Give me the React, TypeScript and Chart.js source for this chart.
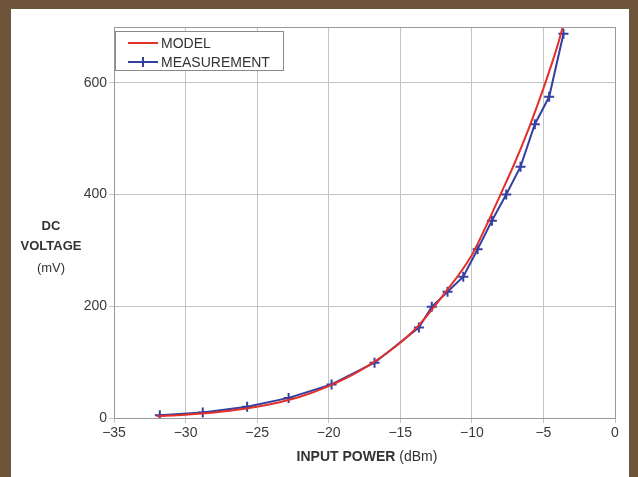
import React, { useEffect, useRef } from 'react';
import { Chart, registerables } from 'chart.js';

Chart.register(...registerables);

// ---- data ----
const modelX = [-32, -30, -28, -26, -24, -22, -20, -18, -16, -14, -12, -10, -9, -8, -7, -6, -5, -4, -3.65];
const modelY = [3, 6, 10, 16, 25, 38, 57, 82, 115, 158, 220, 292, 344, 400, 457, 520, 590, 668, 700];
const measX = [-31.8, -28.8, -25.7, -22.8, -19.8, -16.8, -13.7, -12.8, -11.7, -10.6, -9.6, -8.6, -7.6, -6.6, -5.6, -4.6, -3.6];
const measY = [5, 10, 20, 36, 60, 99, 162, 199, 226, 253, 302, 353, 400, 450, 526, 575, 688];
const xTicks = [-35, -30, -25, -20, -15, -10, -5, 0];
const yTicks = [0, 200, 400, 600];
const seriesLabels = ['MODEL', 'MEASUREMENT'];
const xTitleBold = 'INPUT POWER';
const xTitleUnit = '(dBm)';
const yTitleLines = ['DC', 'VOLTAGE'];
const yTitleUnit = '(mV)';

const RED = '#e2302b';
const BLUE = '#3440a0';
const FONT = '"Liberation Sans", Arial, Helvetica, sans-serif';

const fmt = (v: number) => (v < 0 ? '\u2212' + Math.abs(v) : String(v));

const decorPlugin = {
  id: 'decor',
  afterDraw(chart: any) {
    const ctx = chart.ctx as CanvasRenderingContext2D;
    const a = chart.chartArea;
    ctx.save();
    // plot frame
    ctx.strokeStyle = '#9a9a9a';
    ctx.lineWidth = 1;
    const l = Math.round(a.left), t = Math.round(a.top), r = Math.round(a.right), b = Math.round(a.bottom);
    ctx.strokeRect(l + 0.5, t + 0.5, r - l, b - t);

    // legend box
    const lx = 115.5, ly = 31.5, lw = 168, lh = 39;
    ctx.fillStyle = '#ffffff';
    ctx.fillRect(lx, ly, lw, lh);
    ctx.strokeStyle = '#8a8a8a';
    ctx.strokeRect(lx, ly, lw, lh);
    const rows = [43, 62];
    const colors = [RED, BLUE];
    ctx.font = `14px ${FONT}`;
    ctx.textBaseline = 'middle';
    ctx.textAlign = 'left';
    rows.forEach((y, i) => {
      ctx.strokeStyle = colors[i];
      ctx.lineWidth = 2;
      ctx.beginPath();
      ctx.moveTo(128, y);
      ctx.lineTo(158, y);
      ctx.stroke();
      if (i === 1) {
        ctx.beginPath();
        ctx.moveTo(143, y - 5);
        ctx.lineTo(143, y + 5);
        ctx.stroke();
      }
      ctx.fillStyle = '#333333';
      ctx.fillText(seriesLabels[i], 161, y + 1);
    });

    // x title
    ctx.fillStyle = '#333333';
    ctx.textBaseline = 'middle';
    ctx.font = `bold 14px ${FONT}`;
    const wb = ctx.measureText(xTitleBold + ' ').width;
    ctx.font = `14px ${FONT}`;
    const wu = ctx.measureText(xTitleUnit).width;
    const cx = 367;
    const sx = cx - (wb + wu) / 2;
    ctx.textAlign = 'left';
    ctx.font = `bold 14px ${FONT}`;
    ctx.fillText(xTitleBold + ' ', sx, 457);
    ctx.font = `14px ${FONT}`;
    ctx.fillText(xTitleUnit, sx + wb, 457);

    // y title
    ctx.textAlign = 'center';
    ctx.font = `bold 13px ${FONT}`;
    ctx.fillText(yTitleLines[0], 51, 226);
    ctx.fillText(yTitleLines[1], 51, 246);
    ctx.font = `13px ${FONT}`;
    ctx.fillText(yTitleUnit, 51, 268);
    ctx.restore();
  },
};

export default function App() {
  const ref = useRef<HTMLCanvasElement | null>(null);

  useEffect(() => {
    document.body.style.margin = '0';
    if (!ref.current) return;
    const chart = new Chart(ref.current, {
      type: 'scatter',
      data: {
        datasets: [
          {
            label: seriesLabels[0],
            data: modelX.map((x, i) => ({ x, y: modelY[i] })),
            showLine: true,
            borderColor: RED,
            backgroundColor: RED,
            borderWidth: 2,
            pointRadius: 0,
            cubicInterpolationMode: 'monotone',
          } as any,
          {
            label: seriesLabels[1],
            data: measX.map((x, i) => ({ x, y: measY[i] })),
            showLine: true,
            borderColor: BLUE,
            backgroundColor: BLUE,
            borderWidth: 2,
            pointStyle: 'cross',
            pointRadius: 5,
            pointBorderWidth: 2,
            pointBorderColor: BLUE,
            tension: 0,
          } as any,
        ],
      },
      options: {
        animation: false,
        responsive: false,
        devicePixelRatio: 1,
        layout: { padding: { top: 27, right: 23, left: 0, bottom: 0 } },
        plugins: { legend: { display: false }, tooltip: { enabled: false }, title: { display: false } },
        scales: {
          x: {
            type: 'linear',
            min: -35,
            max: 0,
            afterBuildTicks: (s: any) => { s.ticks = xTicks.map((v) => ({ value: v })); },
            afterFit: (s: any) => { s.height = 59; },
            grid: { color: '#c4c4c4', lineWidth: 1, tickLength: 5, drawTicks: true },
            border: { display: true, color: '#9a9a9a' },
            ticks: {
              padding: 2,
              color: '#3a3a3a',
              font: { family: FONT, size: 14 },
              maxRotation: 0,
              callback: (v: any) => fmt(Number(v)),
            },
          },
          y: {
            type: 'linear',
            min: 0,
            max: 700,
            afterBuildTicks: (s: any) => { s.ticks = yTicks.map((v) => ({ value: v })); },
            afterFit: (s: any) => { s.width = 114; },
            grid: { color: '#c4c4c4', lineWidth: 1, tickLength: 5, drawTicks: true },
            border: { display: true, color: '#9a9a9a' },
            ticks: {
              padding: 2,
              color: '#3a3a3a',
              font: { family: FONT, size: 14 },
              callback: (v: any) => fmt(Number(v)),
            },
          },
        },
      },
      plugins: [decorPlugin],
    });
    return () => chart.destroy();
  }, []);

  return (
    <div style={{ position: 'absolute', left: 0, top: 0, width: 638, height: 477, background: '#6e5438', overflow: 'hidden' }}>
      <div style={{ position: 'absolute', left: 11, top: 9, right: 9, bottom: 0, background: '#ffffff' }} />
      <canvas ref={ref} width={638} height={477} style={{ position: 'absolute', left: 0, top: 0, width: 638, height: 477 }} />
    </div>
  );
}
